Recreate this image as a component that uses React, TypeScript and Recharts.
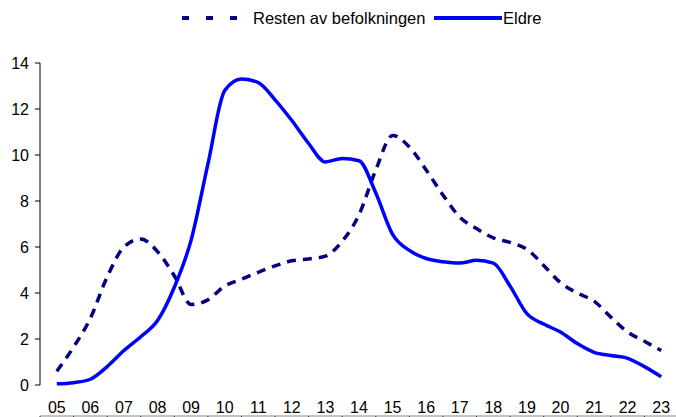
import { LineChart, Line, XAxis, YAxis } from 'recharts';

// half-hour steps, 05:00 – 23:00
const hours = [
  5, 5.5, 6, 6.5, 7, 7.5, 8, 8.5, 9, 9.5, 10, 10.5, 11, 11.5, 12, 12.5, 13, 13.5, 14,
  14.5, 15, 15.5, 16, 16.5, 17, 17.5, 18, 18.5, 19, 19.5, 20, 20.5, 21, 21.5, 22, 22.5, 23,
];

const resten = [
  0.6, 1.65, 2.9, 4.7, 6.0, 6.35, 5.8, 4.75, 3.5, 3.7, 4.3, 4.6, 4.9, 5.18, 5.4, 5.48, 5.6, 6.25, 7.4,
  9.35, 10.85, 10.35, 9.35, 8.26, 7.3, 6.8, 6.4, 6.2, 5.9, 5.2, 4.45, 4.0, 3.65, 2.95, 2.3, 1.9, 1.5,
];

const eldre = [
  0.05, 0.1, 0.25, 0.8, 1.5, 2.1, 2.8, 4.25, 6.3, 9.6, 12.8, 13.3, 13.15, 12.4, 11.5, 10.5, 9.7, 9.85, 9.75,
  8.35, 6.55, 5.85, 5.5, 5.36, 5.3, 5.42, 5.3, 4.3, 3.1, 2.65, 2.3, 1.8, 1.42, 1.28, 1.16, 0.8, 0.36,
];

const labelTicks = [5, 6, 7, 8, 9, 10, 11, 12, 13, 14, 15, 16, 17, 18, 19, 20, 21, 22, 23];
const markTicks = [
  4.5, 5.5, 6.5, 7.5, 8.5, 9.5, 10.5, 11.5, 12.5, 13.5, 14.5, 15.5, 16.5, 17.5, 18.5, 19.5, 20.5,
  21.5, 22.5, 23.5,
];
const yTicks = [0, 2, 4, 6, 8, 10, 12, 14];

const data = hours.map((h, i) => ({ h, resten: resten[i], eldre: eldre[i] }));

const font = '"Liberation Sans", Arial, sans-serif';

export default function App() {
  return (
    <div
      style={{
        position: 'absolute',
        left: 0,
        top: 0,
        width: 676,
        height: 417,
        overflow: 'hidden',
        background: '#fff',
        fontFamily: font,
      }}
    >
      {/* legend */}
      <svg width={676} height={40} style={{ position: 'absolute', left: 0, top: 0 }}>
        <line x1={182} y1={18} x2={240} y2={18} stroke="#000080" strokeWidth={4} strokeDasharray="7 17" />
        <text x={253} y={24} fontSize={16.5} fill="#000" fontFamily={font}>
          Resten av befolkningen
        </text>
        <line x1={434} y1={18} x2={502} y2={18} stroke="#0000FF" strokeWidth={4} />
        <text x={503} y={24} fontSize={16.5} fill="#000" fontFamily={font}>
          Eldre
        </text>
      </svg>

      <LineChart
        width={680}
        height={417}
        data={data}
        margin={{ top: 63, right: 2, bottom: 0, left: 0 }}
        style={{ position: 'absolute', left: 0, top: 0 }}
      >
        <XAxis
          xAxisId="mark"
          dataKey="h"
          type="number"
          domain={[4.5, 23.5]}
          ticks={markTicks}
          tickFormatter={() => ''}
          height={1}
          tickSize={5}
          axisLine={{ stroke: '#888888' }}
          tickLine={{ stroke: '#333333' }}
        />
        <XAxis
          xAxisId="lab"
          dataKey="h"
          type="number"
          domain={[4.5, 23.5]}
          ticks={labelTicks}
          tickFormatter={(v: number) => String(v).padStart(2, '0')}
          height={31}
          axisLine={false}
          tickLine={false}
          tickMargin={11}
          interval={0}
          tick={{ fontSize: 16, fill: '#000', fontFamily: font }}
        />
        <YAxis
          domain={[0, 14]}
          ticks={yTicks}
          width={40}
          tickSize={5}
          tickMargin={6}
          interval={0}
          axisLine={{ stroke: '#000' }}
          tickLine={{ stroke: '#000' }}
          tick={{ fontSize: 16, fill: '#000', fontFamily: font }}
        />
        <Line
          xAxisId="lab"
          type="monotone"
          dataKey="resten"
          stroke="#000080"
          strokeWidth={3.5}
          strokeDasharray="9 7"
          dot={false}
          isAnimationActive={false}
        />
        <Line
          xAxisId="lab"
          type="monotone"
          dataKey="eldre"
          stroke="#0000FF"
          strokeWidth={3.5}
          dot={false}
          isAnimationActive={false}
        />
      </LineChart>
    </div>
  );
}
